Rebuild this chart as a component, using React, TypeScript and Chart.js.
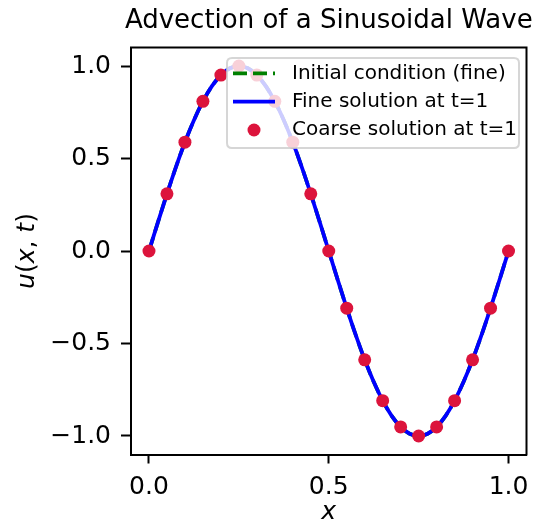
import React, { useEffect, useRef } from "react";
import { Chart, registerables } from "chart.js";

Chart.register(...registerables);

const chartTitle = "Advection of a Sinusoidal Wave";
const legendLabels = ["Initial condition (fine)", "Fine solution at t=1", "Coarse solution at t=1"];

const coarseX = [0, 0.05, 0.1, 0.15, 0.2, 0.25, 0.3, 0.35, 0.4, 0.45, 0.5, 0.55, 0.6, 0.65, 0.7, 0.75, 0.8, 0.85, 0.9, 0.95, 1.0];
const coarseU = [0, 0.309, 0.588, 0.809, 0.951, 1.0, 0.951, 0.809, 0.588, 0.309, 0, -0.309, -0.588, -0.809, -0.951, -1.0, -0.951, -0.809, -0.588, -0.309, 0];

const fineX = [
  0, 0.025, 0.05, 0.075, 0.1, 0.125, 0.15, 0.175, 0.2, 0.225, 0.25, 0.275, 0.3, 0.325, 0.35, 0.375, 0.4, 0.425, 0.45, 0.475,
  0.5, 0.525, 0.55, 0.575, 0.6, 0.625, 0.65, 0.675, 0.7, 0.725, 0.75, 0.775, 0.8, 0.825, 0.85, 0.875, 0.9, 0.925, 0.95, 0.975, 1.0,
];
const fineU = [
  0, 0.156, 0.309, 0.454, 0.588, 0.707, 0.809, 0.891, 0.951, 0.988, 1.0, 0.988, 0.951, 0.891, 0.809, 0.707, 0.588, 0.454, 0.309, 0.156,
  0, -0.156, -0.309, -0.454, -0.588, -0.707, -0.809, -0.891, -0.951, -0.988, -1.0, -0.988, -0.951, -0.891, -0.809, -0.707, -0.588, -0.454, -0.309, -0.156, 0,
];
const initialU = [
  0, 0.156, 0.309, 0.454, 0.588, 0.707, 0.809, 0.891, 0.951, 0.988, 1.0, 0.988, 0.951, 0.891, 0.809, 0.707, 0.588, 0.454, 0.309, 0.156,
  0, -0.156, -0.309, -0.454, -0.588, -0.707, -0.809, -0.891, -0.951, -0.988, -1.0, -0.988, -0.951, -0.891, -0.809, -0.707, -0.588, -0.454, -0.309, -0.156, 0,
];

const xTicks = [0, 0.5, 1.0];
const yTicks = [-1.0, -0.5, 0, 0.5, 1.0];

const FONT = "'DejaVu Sans', sans-serif";
const GREEN = "#008000";
const BLUE = "#0000ff";
const RED = "#dc143c";

const fmt = (v: number) => (v < 0 ? "\u2212" + Math.abs(v).toFixed(1) : v.toFixed(1));

const decorPlugin = {
  id: "decor",
  afterDraw(chart: any) {
    const ctx = chart.ctx as CanvasRenderingContext2D;
    const a = chart.chartArea;
    ctx.save();
    // top & right spines
    ctx.strokeStyle = "#000";
    ctx.lineWidth = 2;
    ctx.beginPath();
    ctx.moveTo(a.left - 1, a.top);
    ctx.lineTo(a.right, a.top);
    ctx.lineTo(a.right, a.bottom + 1);
    ctx.stroke();

    // title
    ctx.fillStyle = "#000";
    ctx.font = `26px ${FONT}`;
    ctx.textAlign = "center";
    ctx.textBaseline = "alphabetic";
    ctx.fillText(chartTitle, (a.left + a.right) / 2, 28);

    // x axis label
    ctx.font = `italic 25px ${FONT}`;
    ctx.textBaseline = "middle";
    ctx.fillText("x", (a.left + a.right) / 2, 512);

    // y axis label, mixed italic/upright
    ctx.save();
    ctx.translate(27, (a.top + a.bottom) / 2);
    ctx.rotate(-Math.PI / 2);
    const parts: [string, boolean][] = [["u", true], ["(", false], ["x", true], [", ", false], ["t", true], [")", false]];
    let total = 0;
    const widths = parts.map(([s, it]) => {
      ctx.font = `${it ? "italic " : ""}25px ${FONT}`;
      const w = ctx.measureText(s).width;
      total += w;
      return w;
    });
    let cx = -total / 2;
    ctx.textAlign = "left";
    parts.forEach(([s, it], i) => {
      ctx.font = `${it ? "italic " : ""}25px ${FONT}`;
      ctx.fillText(s, cx, 0);
      cx += widths[i];
    });
    ctx.restore();

    // legend
    const lx = 227, ly = 58, lw = 292, lh = 90, r = 5;
    ctx.beginPath();
    ctx.moveTo(lx + r, ly);
    ctx.lineTo(lx + lw - r, ly);
    ctx.quadraticCurveTo(lx + lw, ly, lx + lw, ly + r);
    ctx.lineTo(lx + lw, ly + lh - r);
    ctx.quadraticCurveTo(lx + lw, ly + lh, lx + lw - r, ly + lh);
    ctx.lineTo(lx + r, ly + lh);
    ctx.quadraticCurveTo(lx, ly + lh, lx, ly + lh - r);
    ctx.lineTo(lx, ly + r);
    ctx.quadraticCurveTo(lx, ly, lx + r, ly);
    ctx.closePath();
    ctx.fillStyle = "rgba(255,255,255,0.8)";
    ctx.fill();
    ctx.strokeStyle = "rgba(204,204,204,0.8)";
    ctx.lineWidth = 2;
    ctx.stroke();

    const rows = [73.3, 101.7, 130];
    const hx0 = 233, hx1 = 275;
    // initial condition: green dashed
    ctx.strokeStyle = GREEN;
    ctx.lineWidth = 3.75;
    ctx.setLineDash([14, 6]);
    ctx.beginPath();
    ctx.moveTo(hx0, rows[0]);
    ctx.lineTo(hx1, rows[0]);
    ctx.stroke();
    ctx.setLineDash([]);
    // fine: blue solid
    ctx.strokeStyle = BLUE;
    ctx.beginPath();
    ctx.moveTo(hx0, rows[1]);
    ctx.lineTo(hx1, rows[1]);
    ctx.stroke();
    // coarse: red dot
    ctx.fillStyle = RED;
    ctx.beginPath();
    ctx.arc((hx0 + hx1) / 2, rows[2], 6.5, 0, Math.PI * 2);
    ctx.fill();

    ctx.fillStyle = "#000";
    ctx.font = `20px ${FONT}`;
    ctx.textAlign = "left";
    ctx.textBaseline = "middle";
    legendLabels.forEach((t, i) => ctx.fillText(t, 292, rows[i]));
    ctx.restore();
  },
};

export default function App() {
  const ref = useRef<HTMLCanvasElement | null>(null);
  useEffect(() => {
    if (!ref.current) return;
    const chart = new Chart(ref.current, {
      type: "scatter",
      data: {
        datasets: [
          {
            label: legendLabels[2],
            data: coarseX.map((x, i) => ({ x, y: coarseU[i] })),
            showLine: false,
            pointRadius: 6.5,
            pointBackgroundColor: RED,
            pointBorderWidth: 0,
            order: 0,
          },
          {
            label: legendLabels[1],
            data: fineX.map((x, i) => ({ x, y: fineU[i] })),
            showLine: true,
            borderColor: BLUE,
            borderWidth: 3.75,
            pointRadius: 0,
            cubicInterpolationMode: "monotone",
            order: 1,
          },
          {
            label: legendLabels[0],
            data: fineX.map((x, i) => ({ x, y: initialU[i] })),
            showLine: true,
            borderColor: GREEN,
            borderWidth: 3.75,
            borderDash: [14, 6],
            pointRadius: 0,
            cubicInterpolationMode: "monotone",
            order: 2,
          },
        ],
      },
      options: {
        animation: false,
        responsive: false,
        devicePixelRatio: 1,
        layout: { padding: { left: 0, top: 47.5, right: 5, bottom: 0 } },
        plugins: { legend: { display: false }, tooltip: { enabled: false }, title: { display: false } },
        scales: {
          x: {
            type: "linear",
            min: -0.05,
            max: 1.05,
            afterBuildTicks: (s: any) => {
              s.ticks = xTicks.map((v) => ({ value: v }));
            },
            afterFit: (s: any) => {
              s.height = 72.5;
              s.paddingLeft = 0;
              s.paddingRight = 0;
            },
            ticks: {
              callback: (v: any) => fmt(Number(v)),
              font: { family: FONT, size: 25 },
              color: "#000",
              padding: 9,
              maxRotation: 0,
              autoSkip: false,
            },
            grid: { display: true, drawOnChartArea: false, drawTicks: true, tickLength: 9, tickWidth: 2, tickColor: "#000" },
            border: { display: true, color: "#000", width: 2 },
          },
          y: {
            type: "linear",
            min: -1.1,
            max: 1.1,
            afterBuildTicks: (s: any) => {
              s.ticks = yTicks.map((v) => ({ value: v }));
            },
            afterFit: (s: any) => {
              s.width = 131;
              s.paddingTop = 0;
              s.paddingBottom = 0;
            },
            ticks: {
              callback: (v: any) => fmt(Number(v)),
              font: { family: FONT, size: 25 },
              color: "#000",
              padding: 10,
              autoSkip: false,
            },
            grid: { display: true, drawOnChartArea: false, drawTicks: true, tickLength: 10, tickWidth: 2, tickColor: "#000" },
            border: { display: true, color: "#000", width: 2 },
          },
        },
      },
      plugins: [decorPlugin],
    } as any);
    return () => chart.destroy();
  }, []);
  return (
    <div style={{ position: "absolute", left: 0, top: 0, width: 533, height: 527, background: "#fff" }}>
      <canvas ref={ref} width={533} height={527} style={{ width: 533, height: 527, display: "block" }} />
    </div>
  );
}
